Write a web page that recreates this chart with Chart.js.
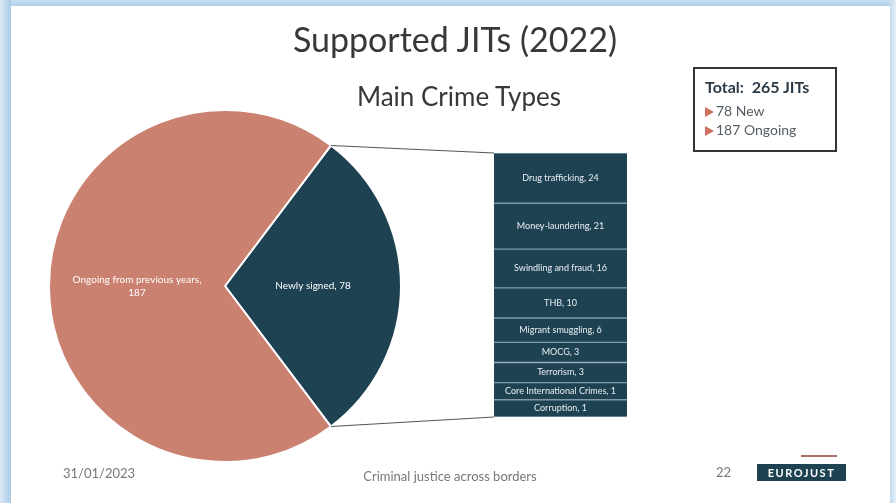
<!DOCTYPE html>
<html>
<head>
<meta charset="utf-8">
<script src="https://cdn.jsdelivr.net/npm/chart.js@4.4.1/dist/chart.umd.min.js"></script>
<style>
  body { margin: 0; background: #fff; font-family: Lato, 'Open Sans', sans-serif; }
  #slide { position: relative; width: 896px; height: 503px; overflow: hidden; background: #fff; }
  .frame { position: absolute; background: #b7d3ea; }
  #frameLeft { left: 0; top: 0; width: 11px; height: 503px; background: linear-gradient(to right, #dbe9f5, #a9cbe7); }
  #frameTop { left: 0; top: 0; width: 896px; height: 6px; background: linear-gradient(to bottom, #c9def0, #b2d0ea); }
  #frameRight { right: 0; top: 0; width: 6px; height: 503px; background: linear-gradient(to right, #c3dbef, #e3eff8); }
  canvas { position: absolute; }
  #myPie { left: 0; top: 0; }
  #myBar { left: 494px; top: 153px; }
  .txt { position: absolute; white-space: nowrap; }
  #title { left: 0; width: 910px; text-align: center; top: 18px; font-size: 34px; color: #383838; }
  #subtitle { left: 0; width: 918px; text-align: center; top: 80px; font-size: 26px; color: #383838; }
  #totalBox { position: absolute; left: 693px; top: 67px; width: 140px; height: 81px; border: 2px solid #333; box-sizing: content-box; }
  #totalBox .head { position: absolute; left: 10px; top: 8px; font-size: 16px; font-weight: bold; color: #2b3a46; }
  #totalBox .item { position: absolute; left: 10px; font-size: 14px; color: #555c63; }
  #totalBox .arrow { display: inline-block; width: 0; height: 0; border-top: 5px solid transparent; border-bottom: 5px solid transparent; border-left: 9px solid #d0705f; margin-right: 2px; vertical-align: -1px; }
  .foot { position: absolute; font-size: 13px; color: #777; }
  #logo { position: absolute; left: 757px; top: 464px; width: 89px; height: 17px; background: #1f4253; color: #fff; font-size: 11px; font-weight: bold; letter-spacing: 1.5px; text-align: center; line-height: 17px; }
  #logoLine { position: absolute; left: 801px; top: 455px; width: 36px; height: 2px; background: #a97069; }
</style>
</head>
<body>
<div id="slide">
  <canvas id="myPie" width="896" height="503"></canvas>
  <canvas id="myBar" width="133" height="264"></canvas>
  <div class="frame" id="frameTop"></div>
  <div class="frame" id="frameLeft"></div>
  <div class="frame" id="frameRight"></div>
  <div class="txt" id="title">Supported JITs (2022)</div>
  <div class="txt" id="subtitle">Main Crime Types</div>
  <div id="totalBox">
    <div class="head" id="totalHead"></div>
    <div class="item" id="newItem" style="top:33px"></div>
    <div class="item" id="ongoingItem" style="top:52px"></div>
  </div>
  <div class="foot" style="left:63px; top:465px;">31/01/2023</div>
  <div class="foot" style="left:0; width:900px; text-align:center; top:468px;">Criminal justice across borders</div>
  <div class="foot" style="left:716px; top:464px;">22</div>
  <div id="logoLine"></div>
  <div id="logo">EUROJUST</div>
</div>
<script>
const pieLabels = ['Newly signed', 'Ongoing from previous years'];
const pieValues = [78, 187];

// breakdown of the newly signed slice, top of the column first
const crimeTypes = ['Drug trafficking', 'Money-laundering', 'Swindling and fraud', 'THB', 'Migrant smuggling', 'MOCG', 'Terrorism', 'Core International Crimes', 'Corruption'];
const crimeValues = [24, 21, 16, 10, 6, 3, 3, 1, 1];

const salmon = '#cb8170';
const navy = '#1f4253';

const total = pieValues[0] + pieValues[1];
document.getElementById('totalHead').innerHTML = `Total:&nbsp; ${total} JITs`;
document.getElementById('newItem').innerHTML = `<span class="arrow"></span>${pieValues[0]} New`;
document.getElementById('ongoingItem').innerHTML = `<span class="arrow"></span>${pieValues[1]} Ongoing`;

Chart.defaults.font.family = 'Lato, "Open Sans", sans-serif';
Chart.defaults.animation = false;

// the slide gives every segment a little extra height so small ones stay readable
const segPad = 11;

// Chart.js stacks from the bottom up, so the list is reversed
const barDatasets = crimeTypes.map((name, i) => ({
  label: name,
  data: [crimeValues[i] + segPad],
  realValue: crimeValues[i],
  backgroundColor: navy,
  borderColor: '#7f9aa8',
  borderWidth: { top: 1, bottom: 1, left: 0, right: 0 },
  borderSkipped: false,
})).reverse();

const barLabels = {
  id: 'barLabels',
  afterDatasetsDraw(chart) {
    const ctx = chart.ctx;
    ctx.save();
    ctx.fillStyle = '#e8eef2';
    ctx.font = '9px Lato, "Open Sans", sans-serif';
    ctx.textAlign = 'center';
    ctx.textBaseline = 'middle';
    chart.data.datasets.forEach((ds, i) => {
      const el = chart.getDatasetMeta(i).data[0];
      ctx.fillText(`${ds.label}, ${ds.realValue}`, el.x, (el.y + el.base) / 2);
    });
    ctx.restore();
  },
};

const barChart = new Chart(document.getElementById('myBar').getContext('2d'), {
  type: 'bar',
  data: { labels: ['Newly signed'], datasets: barDatasets },
  options: {
    responsive: false,
    maintainAspectRatio: false,
    barPercentage: 1,
    categoryPercentage: 1,
    layout: { padding: 0 },
    plugins: { legend: { display: false }, tooltip: { enabled: false } },
    scales: {
      x: { display: false, stacked: true },
      y: { display: false, stacked: true, min: 0, max: barDatasets.reduce((s, d) => s + d.data[0], 0) },
    },
  },
  plugins: [barLabels],
});

const barCanvas = document.getElementById('myBar');

const pieExtras = {
  id: 'pieExtras',
  afterDatasetsDraw(chart) {
    const ctx = chart.ctx;
    const arcs = chart.getDatasetMeta(0).data;

    // labels inside the slices
    ctx.save();
    ctx.fillStyle = '#ffffff';
    ctx.font = '10px Lato, "Open Sans", sans-serif';
    ctx.textAlign = 'center';
    ctx.textBaseline = 'middle';
    arcs.forEach((arc, i) => {
      const p = arc.tooltipPosition();
      const txt = `${pieLabels[i]}, ${pieValues[i]}`;
      if (ctx.measureText(txt).width > 140) {
        ctx.fillText(`${pieLabels[i]},`, p.x, p.y - 6);
        ctx.fillText(`${pieValues[i]}`, p.x, p.y + 7);
      } else {
        ctx.fillText(txt, p.x, p.y);
      }
    });
    ctx.restore();

    // connector lines from the newly signed slice to the column
    const arc = arcs[0];
    const metas = barChart.data.datasets.map((d, i) => barChart.getDatasetMeta(i).data[0]);
    const topEl = metas[metas.length - 1];
    const botEl = metas[0];
    const bx = barCanvas.offsetLeft + topEl.x - topEl.width / 2;
    const by0 = barCanvas.offsetTop + topEl.y;
    const by1 = barCanvas.offsetTop + botEl.base;
    ctx.save();
    ctx.strokeStyle = '#555555';
    ctx.lineWidth = 1.2;
    ctx.beginPath();
    ctx.moveTo(arc.x + arc.outerRadius * Math.cos(arc.startAngle), arc.y + arc.outerRadius * Math.sin(arc.startAngle));
    ctx.lineTo(bx, by0);
    ctx.moveTo(arc.x + arc.outerRadius * Math.cos(arc.endAngle), arc.y + arc.outerRadius * Math.sin(arc.endAngle));
    ctx.lineTo(bx, by1);
    ctx.stroke();
    ctx.restore();
  },
};

const pieChart = new Chart(document.getElementById('myPie').getContext('2d'), {
  type: 'pie',
  data: {
    labels: pieLabels,
    datasets: [{
      data: pieValues,
      backgroundColor: [navy, salmon],
      borderColor: '#ffffff',
      borderWidth: 2,
    }],
  },
  options: {
    responsive: false,
    maintainAspectRatio: false,
    // centre the newly signed slice on the right-hand side
    rotation: 90 - (pieValues[0] / total) * 180,
    layout: { padding: { left: 48, top: 108, right: 494, bottom: 39 } },
    plugins: { legend: { display: false }, tooltip: { enabled: false } },
  },
  plugins: [pieExtras],
});
</script>
</body>
</html>
